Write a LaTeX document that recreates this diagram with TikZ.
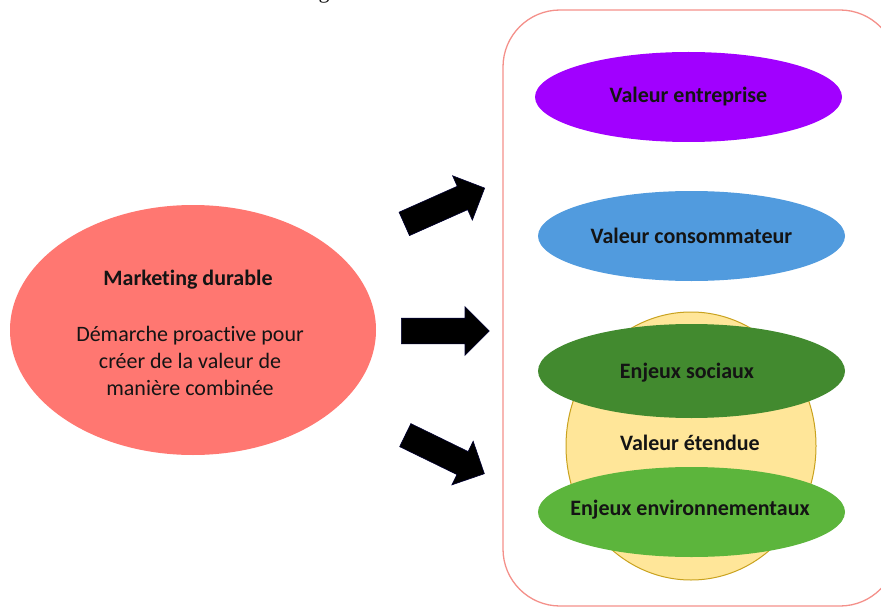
\documentclass[tikz,border=0pt]{standalone}
\usepackage{fontspec}
\setmainfont[Ligatures=NoCommon]{Carlito}
\newfontfamily\captionfont{Liberation Serif}
\usetikzlibrary{shapes.arrows}

\definecolor{panelred}{HTML}{F4908A}
\definecolor{salmon}{HTML}{FF7771}
\definecolor{purplev}{HTML}{A100FF}
\definecolor{bluev}{HTML}{519BDE}
\definecolor{darkgreen}{HTML}{428A2F}
\definecolor{lightgreen}{HTML}{5CB53C}
\definecolor{paleyellow}{HTML}{FFE699}
\definecolor{goldline}{HTML}{C9A21E}
\definecolor{inkblack}{HTML}{141414}

\begin{document}
\begin{tikzpicture}[x=1pt,y=-1pt,
  every node/.style={text=inkblack},
  label/.style={font=\fontsize{22}{27}\selectfont\bfseries},
  body/.style={font=\fontsize{22}{27}\selectfont, align=center},
  blockarrow/.style={single arrow, fill=black, draw=black!80!blue, line width=0.6pt,
    inner sep=12.5pt, minimum height=88pt, single arrow head extend=11.5pt,
    single arrow tip angle=90, anchor=tail},
]
\useasboundingbox (0,0) rectangle (881,607);

% caption fragment cut by the top edge
\node[font=\captionfont\fontsize{22}{26}\selectfont, anchor=base, inner sep=0] (cap) at (324,-1) {g};

% container panel on the right
\draw[panelred, line width=1.3pt, rounded corners=57pt] (503,10) rectangle (897,606);

% left ellipse
\fill[salmon] (193,330) ellipse [x radius=183, y radius=125];
\node[label] (md) at (188,280) {Marketing durable};
\node[body] (mdtext) at (190,361) {Démarche proactive pour\\créer de la valeur de\\manière combinée};

% block arrows
\node[blockarrow, rotate=24] (arrowup) at (404,224) {};
\node[blockarrow] (arrowmid) at (401,331) {};
\node[blockarrow, rotate=-26] (arrowdown) at (405,435) {};

% value ellipses
\fill[purplev] (688.5,97) ellipse [x radius=153.5, y radius=45];
\node[label] (ve) at (688.5,97) {Valeur entreprise};

\fill[bluev] (691.5,236) ellipse [x radius=153.5, y radius=45];
\node[label] (vc) at (691.5,236) {Valeur consommateur};

% extended value circle with the two issue ellipses
\draw[goldline, fill=paleyellow, line width=1pt] (691,446) ellipse [x radius=125, y radius=134];
\fill[darkgreen] (691.5,371) ellipse [x radius=153.5, y radius=47];
\node[label] (es) at (687,373) {Enjeux sociaux};
\node[label] (vet) at (690,443) {Valeur étendue};
\fill[lightgreen] (691.5,512) ellipse [x radius=153.5, y radius=45];
\node[label] (ee) at (690,510) {Enjeux environnementaux};
\end{tikzpicture}
\end{document}
